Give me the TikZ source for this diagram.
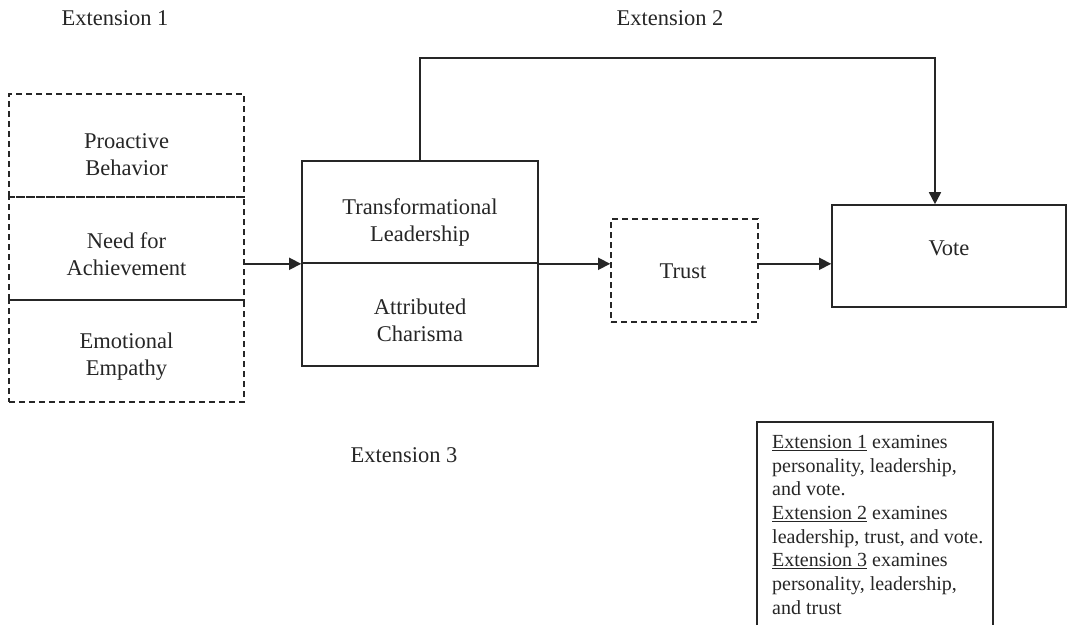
\documentclass[tikz,border=0pt]{standalone}
\usepackage{fontspec}
\setmainfont{Liberation Serif}
\usetikzlibrary{arrows.meta}
\begin{document}
\begin{tikzpicture}[x=1pt,y=-1pt,
  ln/.style={line width=1.6pt,draw=black!85},
  dbox/.style={ln,rectangle,inner sep=0pt,dash pattern=on 6pt off 4pt},
  sbox/.style={ln,rectangle,inner sep=0pt},
  txt/.style={font=\fontsize{22.5}{27}\selectfont,align=center,inner sep=0pt,text=black!85},
  lgtxt/.style={font=\fontsize{20}{23.7}\selectfont,align=left,inner sep=0pt,text=black!85},
  arr/.style={ln,-{Triangle[length=12pt,width=12pt]}}]
\useasboundingbox (0,0) rectangle (1069,625);
% left personality boxes
\node[dbox,minimum width=235pt,minimum height=103pt] (pb) at (126.5,145.5) {};
\node[dbox,minimum width=235pt,minimum height=103pt] (na) at (126.5,248.5) {};
\node[dbox,minimum width=235pt,minimum height=102pt] (ee) at (126.5,351) {};
\node[txt] (pbt) at (126.5,154.5) {Proactive\\Behavior};
\node[txt] (nat) at (126.5,254.5) {Need for\\Achievement};
\node[txt] (eet) at (126.5,356.5) {Emotional\\Empathy};
% leadership boxes
\node[sbox,minimum width=236pt,minimum height=102pt] (tl) at (420,212) {};
\node[sbox,minimum width=236pt,minimum height=103pt] (ac) at (420,314.5) {};
\node[txt] (tlt) at (420,222) {Transformational\\Leadership};
\node[txt] (act) at (420,320) {Attributed\\Charisma};
% trust and vote
\node[dbox,minimum width=147pt,minimum height=103pt] (trust) at (684.5,270.5) {};
\node[txt] (trustt) at (683,271) {Trust};
\node[sbox,minimum width=234pt,minimum height=102pt] (vote) at (949,256) {};
\node[txt] (votet) at (949,248) {Vote};
% extension labels
\node[txt] (e1) at (115,18) {Extension 1};
\node[txt] (e2) at (670,18) {Extension 2};
\node[txt] (e3) at (404,455) {Extension 3};
% connectors
\draw[arr] (na.east |- tl.south west) -- (tl.south west);
\draw[arr] (tl.south east) -- (trust.west |- tl.south east);
\draw[arr] (trust.east |- tl.south east) -- (vote.west |- tl.south east);
\coordinate (c2) at (935,58);
\draw[arr] (tl.north) |- (c2) -- (c2 |- vote.north);
% legend
\coordinate (lg1) at (757,625);
\coordinate (lg2) at (993,422);
\coordinate (lg3) at (993,625);
\draw[ln] (lg1) |- (lg2) -- (lg3);
\node[lgtxt,anchor=north west] (leg) at (772,435) {\underline{Extension 1} examines\\personality, leadership,\\and vote.\\\underline{Extension 2} examines\\leadership, trust, and vote.\\\underline{Extension 3} examines\\personality, leadership,\\and trust};
\end{tikzpicture}
\end{document}
